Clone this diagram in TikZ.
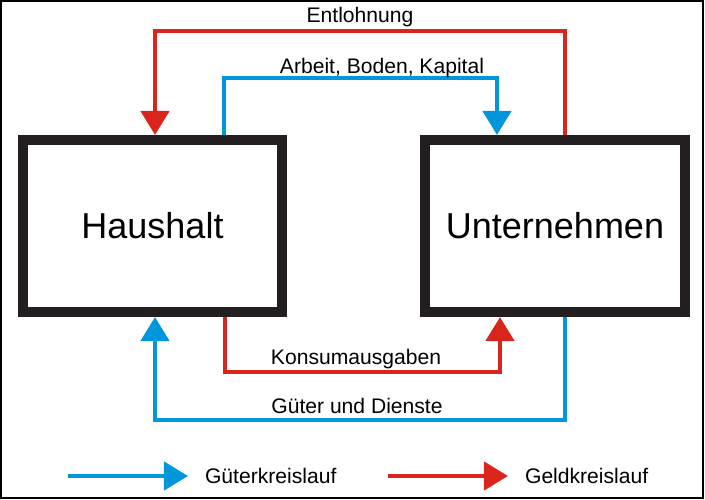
\documentclass[tikz,border=0pt]{standalone}
\usepackage{tikz}
\usepackage{fontspec}
\setmainfont{Liberation Sans}
\usetikzlibrary{arrows.meta,positioning}
\definecolor{geldrot}{RGB}{218,37,29}
\definecolor{gutblau}{RGB}{0,150,219}
\definecolor{kasten}{RGB}{35,31,32}

\begin{document}
\begin{tikzpicture}[x=0.025cm,y=-0.025cm,
	sektor/.style={draw=kasten,line width=0.25cm,minimum width=6.475cm,minimum height=4.3cm,inner sep=0pt,font=\fontsize{25.6}{30}\selectfont},
	lbl/.style={inner sep=0pt,font=\fontsize{15}{18}\selectfont},
	geld/.style={geldrot,line width=0.11cm,-{Triangle[length=0.6cm,width=0.7cm]}},
	gut/.style={gutblau,line width=0.11cm,-{Triangle[length=0.6cm,width=0.7cm]}}]
	\useasboundingbox (0,0) rectangle (705,500);
	% draw frame
	\draw[line width=0.05cm] (1,1) rectangle (703,498);
	% draw sectors
	\node[sektor] (haushalt) at (152.5,226) {Haushalt};
	\node[sektor] (unternehmen) at (555,226) {Unternehmen};
	% bend points
	\coordinate (lohnR) at (565,31);
	\coordinate (lohnL) at (155,31);
	\coordinate (faktorL) at (224,78);
	\coordinate (faktorR) at (497,78);
	\coordinate (konsumL) at (225,372);
	\coordinate (konsumR) at (500,372);
	\coordinate (gueterR) at (565,420);
	\coordinate (gueterL) at (155,420);
	% draw flows
	\draw[geld] (unternehmen.north -| lohnR) -- (lohnR) -- (lohnL) -- (haushalt.north -| lohnL);
	\draw[gut] (haushalt.north -| faktorL) -- (faktorL) -- (faktorR) -- (unternehmen.north -| faktorR);
	\draw[geld] (haushalt.south -| konsumL) -- (konsumL) -- (konsumR) -- (unternehmen.south -| konsumR);
	\draw[gut] (unternehmen.south -| gueterR) -- (gueterR) -- (gueterL) -- (haushalt.south -| gueterL);
	% flow labels
	\node[lbl,anchor=base] (entlohnung) at (360,23) {Entlohnung};
	\node[lbl,anchor=base] (faktoren) at (382,73) {Arbeit, Boden, Kapital};
	\node[lbl,anchor=base] (konsum) at (356,364) {Konsumausgaben};
	\node[lbl,anchor=base] (gueter) at (357,413) {Güter und Dienste};
	% draw legend
	\foreach \x/\sty/\txt in {68/gut/Güterkreislauf,388/geld/Geldkreislauf} {
		\coordinate (s\sty) at (\x,476);
		\coordinate (e\sty) at (\x+120,476);
		\draw[\sty] (s\sty) -- (e\sty);
		\node[lbl,right=0.42cm of e\sty] (leg\sty) {\txt};
	}
\end{tikzpicture}
\end{document}
